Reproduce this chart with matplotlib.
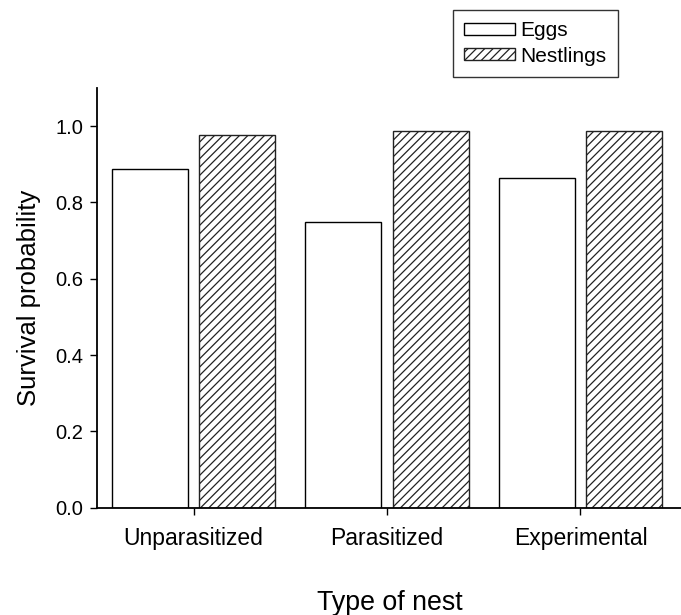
import matplotlib
matplotlib.use("Agg")
import matplotlib.pyplot as plt
import numpy as np

# ---------- Data ----------
nest_types = ["Unparasitized", "Parasitized", "Experimental"]
eggs = [0.888, 0.748, 0.864]
nestlings = [0.978, 0.988, 0.988]

plt.rcParams['font.family'] = ['Liberation Sans', 'DejaVu Sans']
plt.rcParams['hatch.linewidth'] = 0.9

# ---------- Plot ----------
fig = plt.figure(figsize=(6.81, 6.15), dpi=100)
ax = fig.add_axes([0.1424, 0.1743, 0.8576, 0.6826])

x = np.arange(len(nest_types))
width = 0.393
off = 0.2265
b1 = ax.bar(x - off, eggs, width, facecolor='white', edgecolor='black',
            linewidth=1.0, label="Eggs")
b2 = ax.bar(x + off, nestlings, width, facecolor='white', edgecolor='#222222',
            linewidth=1.0, hatch='////', label="Nestlings")

ax.set_xlim(-0.5, 2.52)
ax.set_ylim(0, 1.1)
ax.set_yticks([0.0, 0.2, 0.4, 0.6, 0.8, 1.0])
ax.set_yticklabels(["0.0", "0.2", "0.4", "0.6", "0.8", "1.0"])
ax.set_xticks(x)
ax.set_xticklabels(nest_types)

for side in ['top', 'right']:
    ax.spines[side].set_visible(False)
ax.spines['left'].set_linewidth(1.3)
ax.spines['bottom'].set_linewidth(1.3)
ax.tick_params(axis='both', direction='out', length=5, width=1.0, pad=5)
ax.tick_params(axis='x', labelsize=16.5, pad=9)
ax.tick_params(axis='y', labelsize=14.5)

ax.set_ylabel("Survival probability", fontsize=18.5, labelpad=10)
fig.text(0.573, 0.019, "Type of nest", fontsize=19.3, ha='center', va='center')

leg = fig.legend(handles=[b1, b2], loc='upper left',
                 bbox_to_anchor=(0.665, 0.984), borderaxespad=0, fontsize=15,
                 frameon=True, fancybox=False, edgecolor='black',
                 handlelength=2.45, handleheight=0.55, borderpad=0.55,
                 labelspacing=0.3, handletextpad=0.25)
leg.get_frame().set_linewidth(1.0)

fig.savefig("out.png", dpi=100)
